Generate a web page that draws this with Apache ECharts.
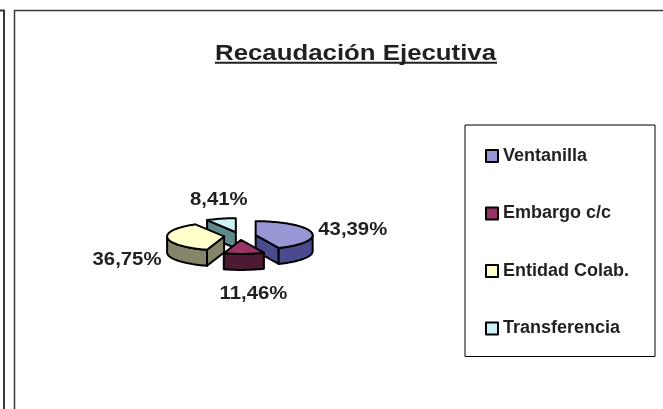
<!DOCTYPE html>
<html>
<head>
<meta charset="utf-8">
<script src="https://cdn.jsdelivr.net/npm/echarts@6/dist/echarts.min.js"></script>
<style>
  html, body { margin: 0; padding: 0; background: #fff; }
  #chart { width: 663px; height: 409px; }
</style>
</head>
<body>
<div id="chart"></div>
<script>
// datos
const categories = ['Ventanilla', 'Embargo c/c', 'Entidad Colab.', 'Transferencia']
const shares = [43.39, 11.46, 36.75, 8.41]
const chartTitle = 'Recaudación Ejecutiva'

// colores (cara superior / lateral)
const topColors = ['#9797d6', '#993366', '#ffffcc', '#cdf1f6']
const sideColors = ['#4a4a8e', '#4c1a33', '#85856a', '#5f8a8c']
const labelOffsets = [[-1, -6], [9, 3], [2, 12], [0, 2]]

const FONT = '"Liberation Sans", Arial, sans-serif'
const TEXT = '#231f20'

// geometria del pastel 3D
const pie = { cx: 240, cy: 236, rx: 57, ry: 14, depth: 16, explode: 16 }

const total = shares.reduce((a, b) => a + b, 0)
const starts = []
let acc = 0
shares.forEach(v => { starts.push(acc); acc += v })

const fmt = v => v.toFixed(2).replace('.', ',') + '%'

const renderSlice = (params, api) => {
  const i = params.dataIndex
  const v = api.value(0)
  const a0 = starts[i] / total * Math.PI * 2
  const a1 = a0 + v / total * Math.PI * 2
  const b = (a0 + a1) / 2
  const ox = pie.cx + pie.explode * Math.sin(b)
  const oy = pie.cy - pie.explode * (pie.ry / pie.rx) * Math.cos(b)
  const pt = (a, down) => [ox + pie.rx * Math.sin(a), oy - pie.ry * Math.cos(a) + (down || 0)]
  const arc = (from, to, down) => {
    const out = []
    const n = Math.max(2, Math.ceil((to - from) / 0.04))
    for (let k = 0; k <= n; k++) out.push(pt(from + (to - from) * k / n, down))
    return out
  }
  const base = Math.round((1 - Math.cos(b)) * 100) * 10
  const face = (points, fill, k) => ({
    type: 'polygon',
    z2: base + k,
    shape: { points },
    style: { fill, stroke: '#000', lineWidth: 2, lineJoin: 'round' }
  })
  const children = []
  const d = pie.depth
  if (Math.sin(a0) < -1e-6) {
    children.push(face([[ox, oy], pt(a0), pt(a0, d), [ox, oy + d]], sideColors[i], 1))
  }
  if (Math.sin(a1) > 1e-6) {
    children.push(face([[ox, oy], pt(a1), pt(a1, d), [ox, oy + d]], sideColors[i], 1))
  }
  const lo = Math.max(a0, Math.PI / 2)
  const hi = Math.min(a1, Math.PI * 1.5)
  if (hi > lo) {
    const wall = arc(lo, hi, 0).concat(arc(lo, hi, d).reverse())
    children.push(face(wall, sideColors[i], 2))
  }
  children.push(face([[ox, oy]].concat(arc(a0, a1, 0)), topColors[i], 3))

  // etiqueta (texto algo ensanchado, como en el original)
  const anchor = pt(b, d / 2)
  const sb = Math.sin(b), cb = Math.cos(b)
  children.push({
    type: 'text',
    z2: 5000,
    x: anchor[0] + 8 * sb + labelOffsets[i][0],
    y: anchor[1] - 20 * cb + labelOffsets[i][1],
    scaleX: 1.13,
    style: {
      x: 0,
      y: 0,
      text: fmt(v),
      fill: TEXT,
      font: 'bold 18px ' + FONT,
      align: sb > 0.5 ? 'left' : (sb < -0.5 ? 'right' : 'center'),
      verticalAlign: cb > 0.5 ? 'bottom' : (cb < -0.5 ? 'top' : 'middle')
    }
  })
  return { type: 'group', children }
}

const chart = echarts.init(document.getElementById('chart'))
chart.setOption({
  animation: false,
  legend: {
    orient: 'vertical',
    left: 465,
    top: 125,
    padding: [22, 26, 19, 20],
    borderColor: '#000',
    borderWidth: 1,
    itemWidth: 12,
    itemHeight: 12,
    itemGap: 39.5,
    icon: 'rect',
    selectedMode: false,
    itemStyle: { borderColor: '#000', borderWidth: 2 },
    textStyle: { fontFamily: FONT, fontWeight: 'bold', fontSize: 18, color: TEXT, lineHeight: 18 },
    data: categories
  },
  graphic: [
    { type: 'rect', shape: { x: 14.5, y: 10.5, width: 700, height: 500 }, style: { fill: 'none', stroke: '#3a3a3a', lineWidth: 1.5 } },
    { type: 'rect', shape: { x: -100, y: 10.5, width: 104, height: 500 }, style: { fill: 'none', stroke: '#3a3a3a', lineWidth: 2 } },
    {
      type: 'text',
      x: 215,
      y: 54,
      scaleX: 1.2,
      style: { text: chartTitle, font: 'bold 21.5px ' + FONT, fill: TEXT, align: 'left', verticalAlign: 'middle' }
    },
    { type: 'line', shape: { x1: 215, y1: 62.7, x2: 497, y2: 62.7 }, style: { stroke: TEXT, lineWidth: 2 } }
  ],
  series: [
    {
      type: 'custom',
      coordinateSystem: 'none',
      renderItem: renderSlice,
      data: shares.map(v => [v])
    },
    {
      // solo para la leyenda
      type: 'pie',
      radius: [0, 0],
      center: [-50, -50],
      silent: true,
      label: { show: false },
      labelLine: { show: false },
      data: categories.map((name, i) => ({ name, value: shares[i], itemStyle: { color: topColors[i] } }))
    }
  ]
})

window.addEventListener('resize', () => chart.resize())
</script>
</body>
</html>
